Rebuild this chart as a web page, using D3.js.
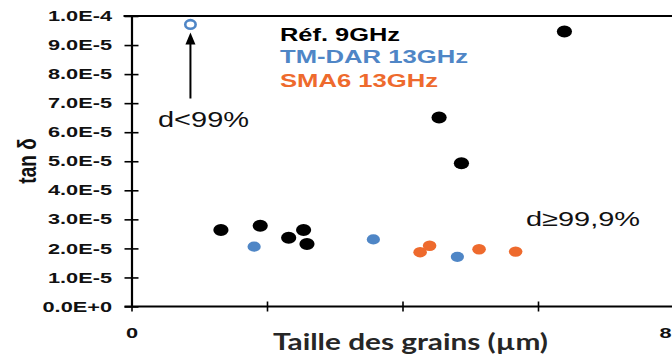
<!DOCTYPE html>
<html><head><meta charset="utf-8">
<script src="https://cdn.jsdelivr.net/npm/d3@7"></script>
<style>
html,body{margin:0;padding:0;background:#fff;}
svg{display:block;}
</style></head>
<body>
<svg id="chart" width="672" height="363"></svg>
<script>
// ---- data (grain size in µm, tan δ) ----
const refX   = [1.32, 1.90, 2.32, 2.54, 2.59, 4.54, 4.87, 6.39];
const refY   = [2.63e-5, 2.78e-5, 2.37e-5, 2.63e-5, 2.15e-5, 6.51e-5, 4.93e-5, 9.47e-5];
const tmX    = [1.81, 3.57, 4.81];
const tmY    = [2.06e-5, 2.31e-5, 1.71e-5];
const tmOpenX = [0.87];
const tmOpenY = [9.71e-5];
const smaX   = [4.26, 4.40, 5.13, 5.67];
const smaY   = [1.87e-5, 2.09e-5, 1.97e-5, 1.89e-5];
const yTicks = [0, 1e-5, 2e-5, 3e-5, 4e-5, 5e-5, 6e-5, 7e-5, 8e-5, 9e-5, 1e-4];
const yTickLabels = ["0.0E+0","1.0E-5","2.0E-5","3.0E-5","4.0E-5","5.0E-5","6.0E-5","7.0E-5","8.0E-5","9.0E-5","1.0E-4"];
const xTicks = [0, 2, 4, 6, 8];
const xTickLabels = ["0", "", "", "", "8"];
const legendLabels = ["Réf. 9GHz", "TM-DAR 13GHz", "SMA6 13GHz"];
const colors = ["#000000", "#4f86c6", "#ee6a2d"];

const svg = d3.select("#chart");
const x = d3.scaleLinear().domain([0, 8]).range([131.5, 673.5]);
const y = d3.scaleLinear().domain([0, 1e-4]).range([306.5, 16]);

const SX = 1.5; // horizontal stretch of the original picture

// ---- Y axis ----
const yAxisIn = svg.append("g").attr("transform", `translate(${x(0)},0)`)
  .call(d3.axisLeft(y).tickValues(yTicks).tickSize(-7).tickSizeOuter(0).tickFormat(""));
yAxisIn.select(".domain").remove();
yAxisIn.selectAll("line").attr("stroke", "#000").attr("stroke-width", 1.6);

const yAxis = svg.append("g").attr("transform", `translate(${x(0)},0)`)
  .call(d3.axisLeft(y).tickValues(yTicks).tickSize(7).tickSizeOuter(0)
    .tickFormat((d, i) => yTickLabels[i]));
yAxis.select(".domain").attr("stroke", "#000").attr("stroke-width", 2.2);
yAxis.selectAll("line").attr("stroke", "#000").attr("stroke-width", 1.6);
yAxis.selectAll("text")
  .attr("x", -19.5 / SX)
  .attr("transform", `scale(${SX},1)`)
  .attr("font-family", "Liberation Sans, Arial, sans-serif")
  .attr("font-weight", "bold")
  .attr("font-size", 14.5)
  .attr("fill", "#111");

// top border line
svg.append("line")
  .attr("x1", x(0) - 8).attr("x2", 672)
  .attr("y1", y(1e-4)).attr("y2", y(1e-4))
  .attr("stroke", "#000").attr("stroke-width", 1.8);

// ---- X axis ----
const xAxisIn = svg.append("g").attr("transform", `translate(0,${y(0)})`)
  .call(d3.axisBottom(x).tickValues(xTicks).tickSize(-5).tickSizeOuter(0).tickFormat(""));
xAxisIn.select(".domain").remove();
xAxisIn.selectAll("line").attr("stroke", "#000").attr("stroke-width", 1.6);

const xAxis = svg.append("g").attr("transform", `translate(0,${y(0)})`)
  .call(d3.axisBottom(x).tickValues(xTicks).tickSize(5).tickSizeOuter(0)
    .tickFormat((d, i) => xTickLabels[i]));
xAxis.select(".domain").attr("d", `M${x(0) - 7},0H${x(8) + 10}`)
  .attr("stroke", "#000").attr("stroke-width", 2);
xAxis.selectAll("line").attr("stroke", "#000").attr("stroke-width", 1.6);
xAxis.selectAll("text")
  .attr("y", 0).attr("dy", 0)
  .attr("transform", `translate(0,31) scale(${SX},1)`)
  .attr("font-family", "Liberation Sans, Arial, sans-serif")
  .attr("font-weight", "bold")
  .attr("font-size", 14.5)
  .attr("fill", "#111");
// keep the last label (at the right edge) inside the picture
xAxis.selectAll(".tick").filter(d => d === 8).select("text")
  .attr("text-anchor", "end")
  .attr("x", (671 - x(8)) / SX);

// ---- axis titles ----
svg.append("text")
  .attr("x", 273).attr("y", 350)
  .attr("textLength", 275).attr("lengthAdjust", "spacingAndGlyphs")
  .attr("font-family", "Lato, 'Open Sans', sans-serif")
  .attr("font-weight", 700).attr("font-size", 22)
  .attr("fill", "#262626")
  .text("Taille des grains (µm)");

svg.append("text")
  .attr("transform", "translate(36,161) scale(1.35,1) rotate(-90)")
  .attr("text-anchor", "middle")
  .attr("font-family", "Liberation Sans, Arial, sans-serif")
  .attr("font-weight", "bold").attr("font-size", 19)
  .attr("fill", "#111")
  .text("tan δ");

// ---- points ----
function dots(xs, ys, color, rx, ry) {
  svg.append("g").selectAll("ellipse")
    .data(xs.map((d, i) => [d, ys[i]]))
    .join("ellipse")
    .attr("cx", d => x(d[0])).attr("cy", d => y(d[1]))
    .attr("rx", rx).attr("ry", ry)
    .attr("fill", color);
}
dots(refX, refY, colors[0], 7.6, 6.0);
dots(tmX, tmY, colors[1], 6.6, 5.1);
dots(smaX, smaY, colors[2], 6.8, 5.2);

svg.append("g").selectAll("ellipse")
  .data(tmOpenX.map((d, i) => [d, tmOpenY[i]]))
  .join("ellipse")
  .attr("cx", d => x(d[0])).attr("cy", d => y(d[1]))
  .attr("rx", 5.2).attr("ry", 4.3)
  .attr("fill", "#fff").attr("stroke", colors[1]).attr("stroke-width", 2.6);

// ---- arrow annotation ----
const ax = x(tmOpenX[0]);
const tipY = y(tmOpenY[0]) + 8;
svg.append("line")
  .attr("x1", ax).attr("x2", ax)
  .attr("y1", tipY + 8).attr("y2", 98.5)
  .attr("stroke", "#000").attr("stroke-width", 2);
svg.append("path")
  .attr("d", `M${ax},${tipY} L${ax - 5},${tipY + 12} L${ax + 5},${tipY + 12} Z`)
  .attr("fill", "#000");

// ---- annotations ----
svg.append("text")
  .attr("x", 158).attr("y", 126.5)
  .attr("textLength", 91).attr("lengthAdjust", "spacingAndGlyphs")
  .attr("font-family", "Liberation Sans, Arial, sans-serif")
  .attr("font-size", 22).attr("fill", "#111")
  .text("d<99%");

svg.append("text")
  .attr("x", 526).attr("y", 225.5)
  .attr("textLength", 114).attr("lengthAdjust", "spacingAndGlyphs")
  .attr("font-family", "Liberation Sans, Arial, sans-serif")
  .attr("font-size", 21).attr("fill", "#111")
  .text("d≥99,9%");

// ---- legend ----
const legendY = [40.5, 63.3, 86.7];
const legendW = [120, 188, 158];
svg.append("g").selectAll("text")
  .data(legendLabels)
  .join("text")
  .attr("x", 280).attr("y", (d, i) => legendY[i])
  .attr("textLength", (d, i) => legendW[i]).attr("lengthAdjust", "spacingAndGlyphs")
  .attr("font-family", "Liberation Sans, Arial, sans-serif")
  .attr("font-weight", "bold").attr("font-size", 17.5)
  .attr("fill", (d, i) => colors[i])
  .text(d => d);
</script>
</body></html>
